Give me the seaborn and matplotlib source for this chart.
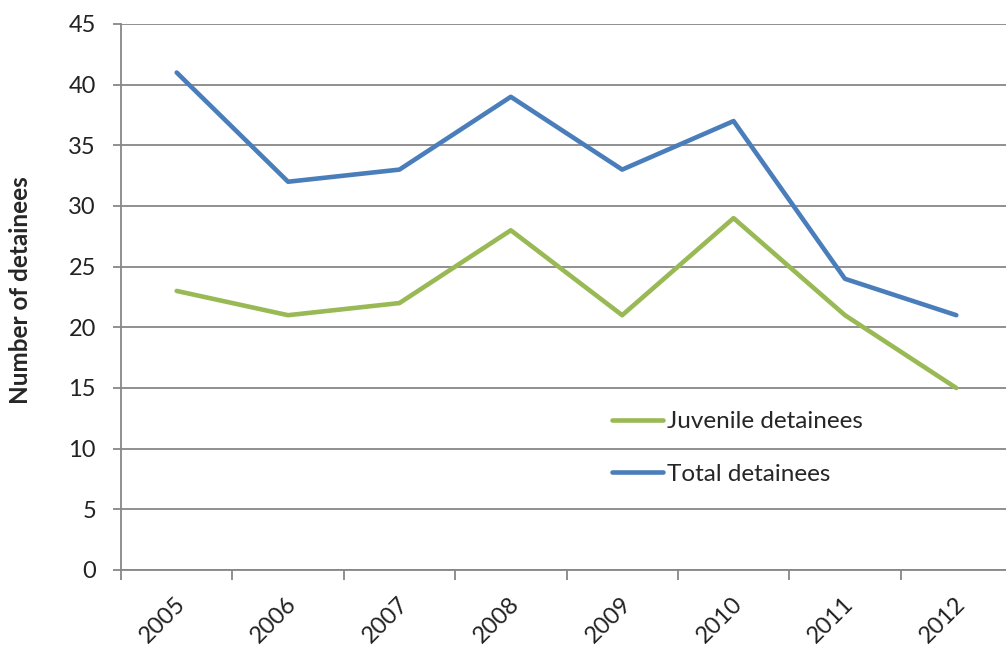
import matplotlib
matplotlib.use("Agg")
import matplotlib.pyplot as plt
import matplotlib.transforms as mtransforms
import seaborn as sns
import pandas as pd

# --- DATA ---
years = ["2005", "2006", "2007", "2008", "2009", "2010", "2011", "2012"]
juvenile = [23, 21, 22, 28, 21, 29, 21, 15]
total = [41, 32, 33, 39, 33, 37, 24, 21]
y_ticks = [0, 5, 10, 15, 20, 25, 30, 35, 40, 45]

GREEN = "#98B954"
BLUE = "#4A7EBB"
GRID = "#878787"
BODY_FONT = ["Lato", "DejaVu Sans"]


def main():
    sns.set_theme(style="white")
    plt.rcParams["font.family"] = BODY_FONT

    df = pd.DataFrame({
        "pos": list(range(len(years))) * 2,
        "value": juvenile + total,
        "series": ["Juvenile detainees"] * len(years) + ["Total detainees"] * len(years),
    })

    fig = plt.figure(figsize=(10.06, 6.46), dpi=100)
    ax = fig.add_axes([121 / 1006, 1 - 570 / 646, 891 / 1006, 546 / 646])

    sns.lineplot(
        data=df, x="pos", y="value", hue="series",
        palette={"Juvenile detainees": GREEN, "Total detainees": BLUE},
        linewidth=3.3, ax=ax, legend=False,
    )

    ax.set_xlim(-0.5, len(years) - 0.5)
    ax.set_ylim(0, 45)
    ax.set_yticks(y_ticks)
    ax.set_yticklabels([str(t) for t in y_ticks], fontsize=17, color="#222222")
    ax.grid(axis="y", color=GRID, linewidth=1.3)
    ax.set_axisbelow(True)

    # category labels at centres, tick marks at boundaries
    ax.set_xticks(range(len(years)))
    ax.set_xticklabels(years, fontsize=17, rotation=45, ha="right",
                       rotation_mode="anchor", color="#222222")
    ax.set_xticks([i - 0.5 for i in range(len(years) + 1)], minor=True)
    ax.tick_params(axis="x", which="major", length=0, pad=17, bottom=True)
    ax.tick_params(axis="x", which="minor", length=7, width=1.3, color=GRID,
                   direction="out", bottom=True)
    ax.tick_params(axis="y", length=6, width=1.3, color=GRID, direction="out",
                   pad=12, left=True)
    offset = mtransforms.ScaledTranslation(-2 / 100, 0, fig.dpi_scale_trans)
    for lbl in ax.get_xticklabels():
        lbl.set_transform(lbl.get_transform() + offset)

    for side in ["top", "right"]:
        ax.spines[side].set_visible(False)
    for side in ["left", "bottom"]:
        ax.spines[side].set_color(GRID)
        ax.spines[side].set_linewidth(1.3)

    ax.set_xlabel("")
    ax.set_ylabel("Number of detainees", fontsize=17.5, fontweight="bold",
                  family=["Lato", "DejaVu Sans"])
    ax.yaxis.set_label_coords((32 - 121) / 891, (570 - 290) / 546)

    handles = [
        plt.Line2D([], [], color=GREEN, linewidth=3.3),
        plt.Line2D([], [], color=BLUE, linewidth=3.3),
    ]
    ax.legend(handles, ["Juvenile detainees", "Total detainees"],
              loc="upper left", bbox_to_anchor=(612 / 1006, 1 - 411 / 646),
              bbox_transform=fig.transFigure, frameon=False, fontsize=17.5,
              handlelength=2.1, handletextpad=0.15, labelspacing=1.3,
              borderpad=0, borderaxespad=0)

    plt.savefig("out.png", dpi=100)


if __name__ == "__main__":
    main()
